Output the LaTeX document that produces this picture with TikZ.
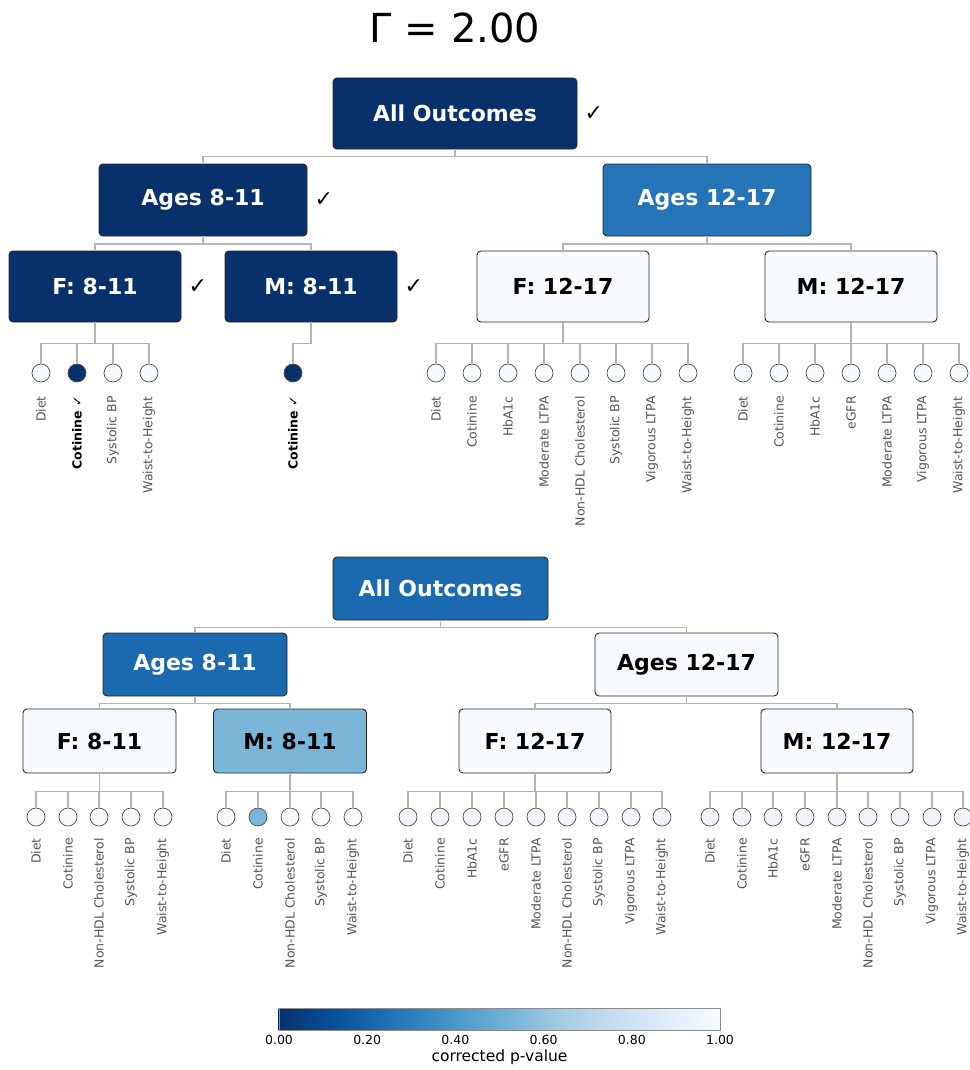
\documentclass[tikz,border=0pt]{standalone}
\usepackage{fontspec}
\setmainfont{DejaVu Sans}

% Blues colour ramp, p = 0 (dark) to p = 1 (light)
\definecolor{cbA}{HTML}{08306B}
\definecolor{cbB}{HTML}{08519C}
\definecolor{cbC}{HTML}{2171B5}
\definecolor{cbD}{HTML}{4292C6}
\definecolor{cbE}{HTML}{6BAED6}
\definecolor{cbF}{HTML}{9ECAE1}
\definecolor{cbG}{HTML}{C6DBEF}
\definecolor{cbH}{HTML}{DEEBF7}
\definecolor{cbI}{HTML}{F7FBFF}

\definecolor{pDark}{HTML}{08306B}
\definecolor{pMid}{HTML}{2474B7}
\definecolor{pMidB}{HTML}{1B69AF}
\definecolor{pSky}{HTML}{7BB6D9}
\definecolor{pLight}{HTML}{F7FBFF}
\definecolor{pLightB}{HTML}{F1F5FA}
\definecolor{connGray}{HTML}{B4B4B4}
\definecolor{labGray}{HTML}{555555}
\definecolor{edgeDark}{HTML}{262626}

\tikzset{
  box/.style={draw=edgeDark, line width=0.9pt, rounded corners=4pt, inner sep=0pt,
              font=\fontsize{22}{26}\selectfont\bfseries},
  dkbox/.style={box, text=white},
  ltbox/.style={box, text=black},
  leaf/.style={circle, draw=black!70, line width=0.7pt, minimum size=18pt, inner sep=0pt},
  conn/.style={draw=connGray, line width=1.1pt},
  lab/.style={text=labGray, font=\fontsize{12.5}{14}\selectfont, inner sep=0pt,
              rotate=90, anchor=east},
  labb/.style={lab, text=black, font=\fontsize{12.5}{14}\selectfont\bfseries},
  chk/.style={font=\fontsize{22}{26}\selectfont, inner sep=0pt, anchor=west},
  ticklab/.style={font=\fontsize{12.5}{14}\selectfont, inner sep=0pt},
}

% one row of outcome leaves under a box:
% #1 parent, #2 drop to the bus line, #3 circle y, #4 label top y,
% #5 entries x/label/fill/label style
\newcommand{\leafrow}[5]{%
  \foreach \xx/\txt/\fc/\st [count=\i] in {#5} {
    \node[leaf, fill=\fc] (#1-\i) at (\xx,#3) {};
    \draw[conn] (#1.south) -- ++(0,#2) -| (#1-\i.north);
    \node[\st] (#1-t\i) at (\xx,#4) {\txt};
  }%
}

\begin{document}
\begin{tikzpicture}[x=1pt,y=-1pt]
\useasboundingbox (0,0) rectangle (969,1070);

\node[font=\fontsize{40}{46}\selectfont, inner sep=0pt] (title) at (455,28) {Γ = 2.00};

% ---------- upper tree ----------
\node[dkbox, fill=pDark, minimum width=244pt, minimum height=71pt] (t0) at (455,113.5) {All Outcomes};
\node[dkbox, fill=pDark, minimum width=208pt, minimum height=72pt] (t1) at (203,200) {Ages 8-11};
\node[dkbox, fill=pMid,  minimum width=208pt, minimum height=72pt] (t2) at (707,200) {Ages 12-17};
\node[dkbox, fill=pDark, minimum width=172pt, minimum height=71pt] (t11) at (95,286.5) {F: 8-11};
\node[dkbox, fill=pDark, minimum width=172pt, minimum height=71pt] (t12) at (311,286.5) {M: 8-11};
\node[ltbox, fill=pLight, minimum width=172pt, minimum height=71pt] (t21) at (563,286.5) {F: 12-17};
\node[ltbox, fill=pLight, minimum width=172pt, minimum height=71pt] (t22) at (851,286.5) {M: 12-17};

\node[chk] (t0c) at ([xshift=7pt]t0.east) {✓};
\node[chk] (t1c) at ([xshift=7pt]t1.east) {✓};
\node[chk] (t11c) at ([xshift=7pt]t11.east) {✓};
\node[chk] (t12c) at ([xshift=7pt]t12.east) {✓};

\draw[conn] (t0.south) -- ++(0,7) -| (t1.north);
\draw[conn] (t0.south) -- ++(0,7) -| (t2.north);
\draw[conn] (t1.south) -- ++(0,7.5) -| (t11.north);
\draw[conn] (t1.south) -- ++(0,7.5) -| (t12.north);
\draw[conn] (t2.south) -- ++(0,7.5) -| (t21.north);
\draw[conn] (t2.south) -- ++(0,7.5) -| (t22.north);

\leafrow{t11}{21}{373}{396}{41/Diet/pLight/lab, 77/Cotinine ✓/pDark/labb,
  113/Systolic BP/pLight/lab, 149/Waist-to-Height/pLight/lab}
\leafrow{t12}{21}{373}{396}{293/Cotinine ✓/pDark/labb}
\leafrow{t21}{21}{373}{396}{436/Diet/pLight/lab, 472/Cotinine/pLight/lab,
  508/HbA1c/pLight/lab, 544/Moderate LTPA/pLight/lab,
  580/Non-HDL Cholesterol/pLight/lab, 616/Systolic BP/pLight/lab,
  652/Vigorous LTPA/pLight/lab, 688/Waist-to-Height/pLight/lab}
\leafrow{t22}{21}{373}{396}{743/Diet/pLight/lab, 779/Cotinine/pLight/lab,
  815/HbA1c/pLight/lab, 851/eGFR/pLight/lab, 887/Moderate LTPA/pLight/lab,
  923/Vigorous LTPA/pLight/lab, 959/Waist-to-Height/pLight/lab}

% ---------- lower tree ----------
\node[dkbox, fill=pMidB, minimum width=215pt, minimum height=63pt] (b0) at (440.5,588.5) {All Outcomes};
\node[dkbox, fill=pMidB, minimum width=184pt, minimum height=63pt] (b1) at (195,664.5) {Ages 8-11};
\node[ltbox, fill=pLight, minimum width=183pt, minimum height=63pt] (b2) at (686.5,664.5) {Ages 12-17};
\node[ltbox, fill=pLight, minimum width=153pt, minimum height=64pt] (b11) at (99.5,741) {F: 8-11};
\node[ltbox, fill=pSky,   minimum width=153pt, minimum height=64pt] (b12) at (290,741) {M: 8-11};
\node[ltbox, fill=pLight, minimum width=152pt, minimum height=64pt] (b21) at (535,741) {F: 12-17};
\node[ltbox, fill=pLight, minimum width=152pt, minimum height=64pt] (b22) at (837,741) {M: 12-17};

\draw[conn] (b0.south) -- ++(0,7) -| (b1.north);
\draw[conn] (b0.south) -- ++(0,7) -| (b2.north);
\draw[conn] (b1.south) -- ++(0,7) -| (b11.north);
\draw[conn] (b1.south) -- ++(0,7) -| (b12.north);
\draw[conn] (b2.south) -- ++(0,7) -| (b21.north);
\draw[conn] (b2.south) -- ++(0,7) -| (b22.north);

\leafrow{b11}{18}{817}{838}{36/Diet/pLight/lab, 68/Cotinine/pLight/lab,
  99/Non-HDL Cholesterol/pLight/lab, 131/Systolic BP/pLight/lab,
  163/Waist-to-Height/pLight/lab}
\leafrow{b12}{18}{817}{838}{226/Diet/pLight/lab, 258/Cotinine/pSky/lab,
  290/Non-HDL Cholesterol/pLight/lab, 321/Systolic BP/pLight/lab,
  353/Waist-to-Height/pLight/lab}
\leafrow{b21}{18}{817}{838}{408/Diet/pLightB/lab, 440/Cotinine/pLightB/lab,
  472/HbA1c/pLightB/lab, 504/eGFR/pLightB/lab, 536/Moderate LTPA/pLightB/lab,
  567/Non-HDL Cholesterol/pLightB/lab, 599/Systolic BP/pLightB/lab,
  631/Vigorous LTPA/pLightB/lab, 662/Waist-to-Height/pLightB/lab}
\leafrow{b22}{18}{817}{838}{710/Diet/pLightB/lab, 742/Cotinine/pLightB/lab,
  773/HbA1c/pLightB/lab, 805/eGFR/pLightB/lab, 837/Moderate LTPA/pLightB/lab,
  868/Non-HDL Cholesterol/pLightB/lab, 900/Systolic BP/pLightB/lab,
  932/Vigorous LTPA/pLightB/lab, 963/Waist-to-Height/pLightB/lab}

% ---------- colour bar ----------
\foreach \ca/\cb [count=\i from 0] in {cbA/cbB, cbB/cbC, cbC/cbD, cbD/cbE,
                                       cbE/cbF, cbF/cbG, cbG/cbH, cbH/cbI}
  \shade[left color=\ca, right color=\cb] (279+\i*55.125-0.3,1008) rectangle (279+\i*55.125+55.425,1030);
\node[draw=black!45, line width=0.8pt, minimum width=441pt, minimum height=22pt, inner sep=0pt] (cbar) at (499.5,1019) {};
\foreach \v [count=\i from 0] in {0.00,0.20,0.40,0.60,0.80,1.00}
  \node[ticklab] (tick\i) at (279+\i*88.2,1040) {\v};
\node[font=\fontsize{15.5}{18}\selectfont, inner sep=0pt] (cblab) at (499.5,1057) {corrected p-value};

\end{tikzpicture}
\end{document}
